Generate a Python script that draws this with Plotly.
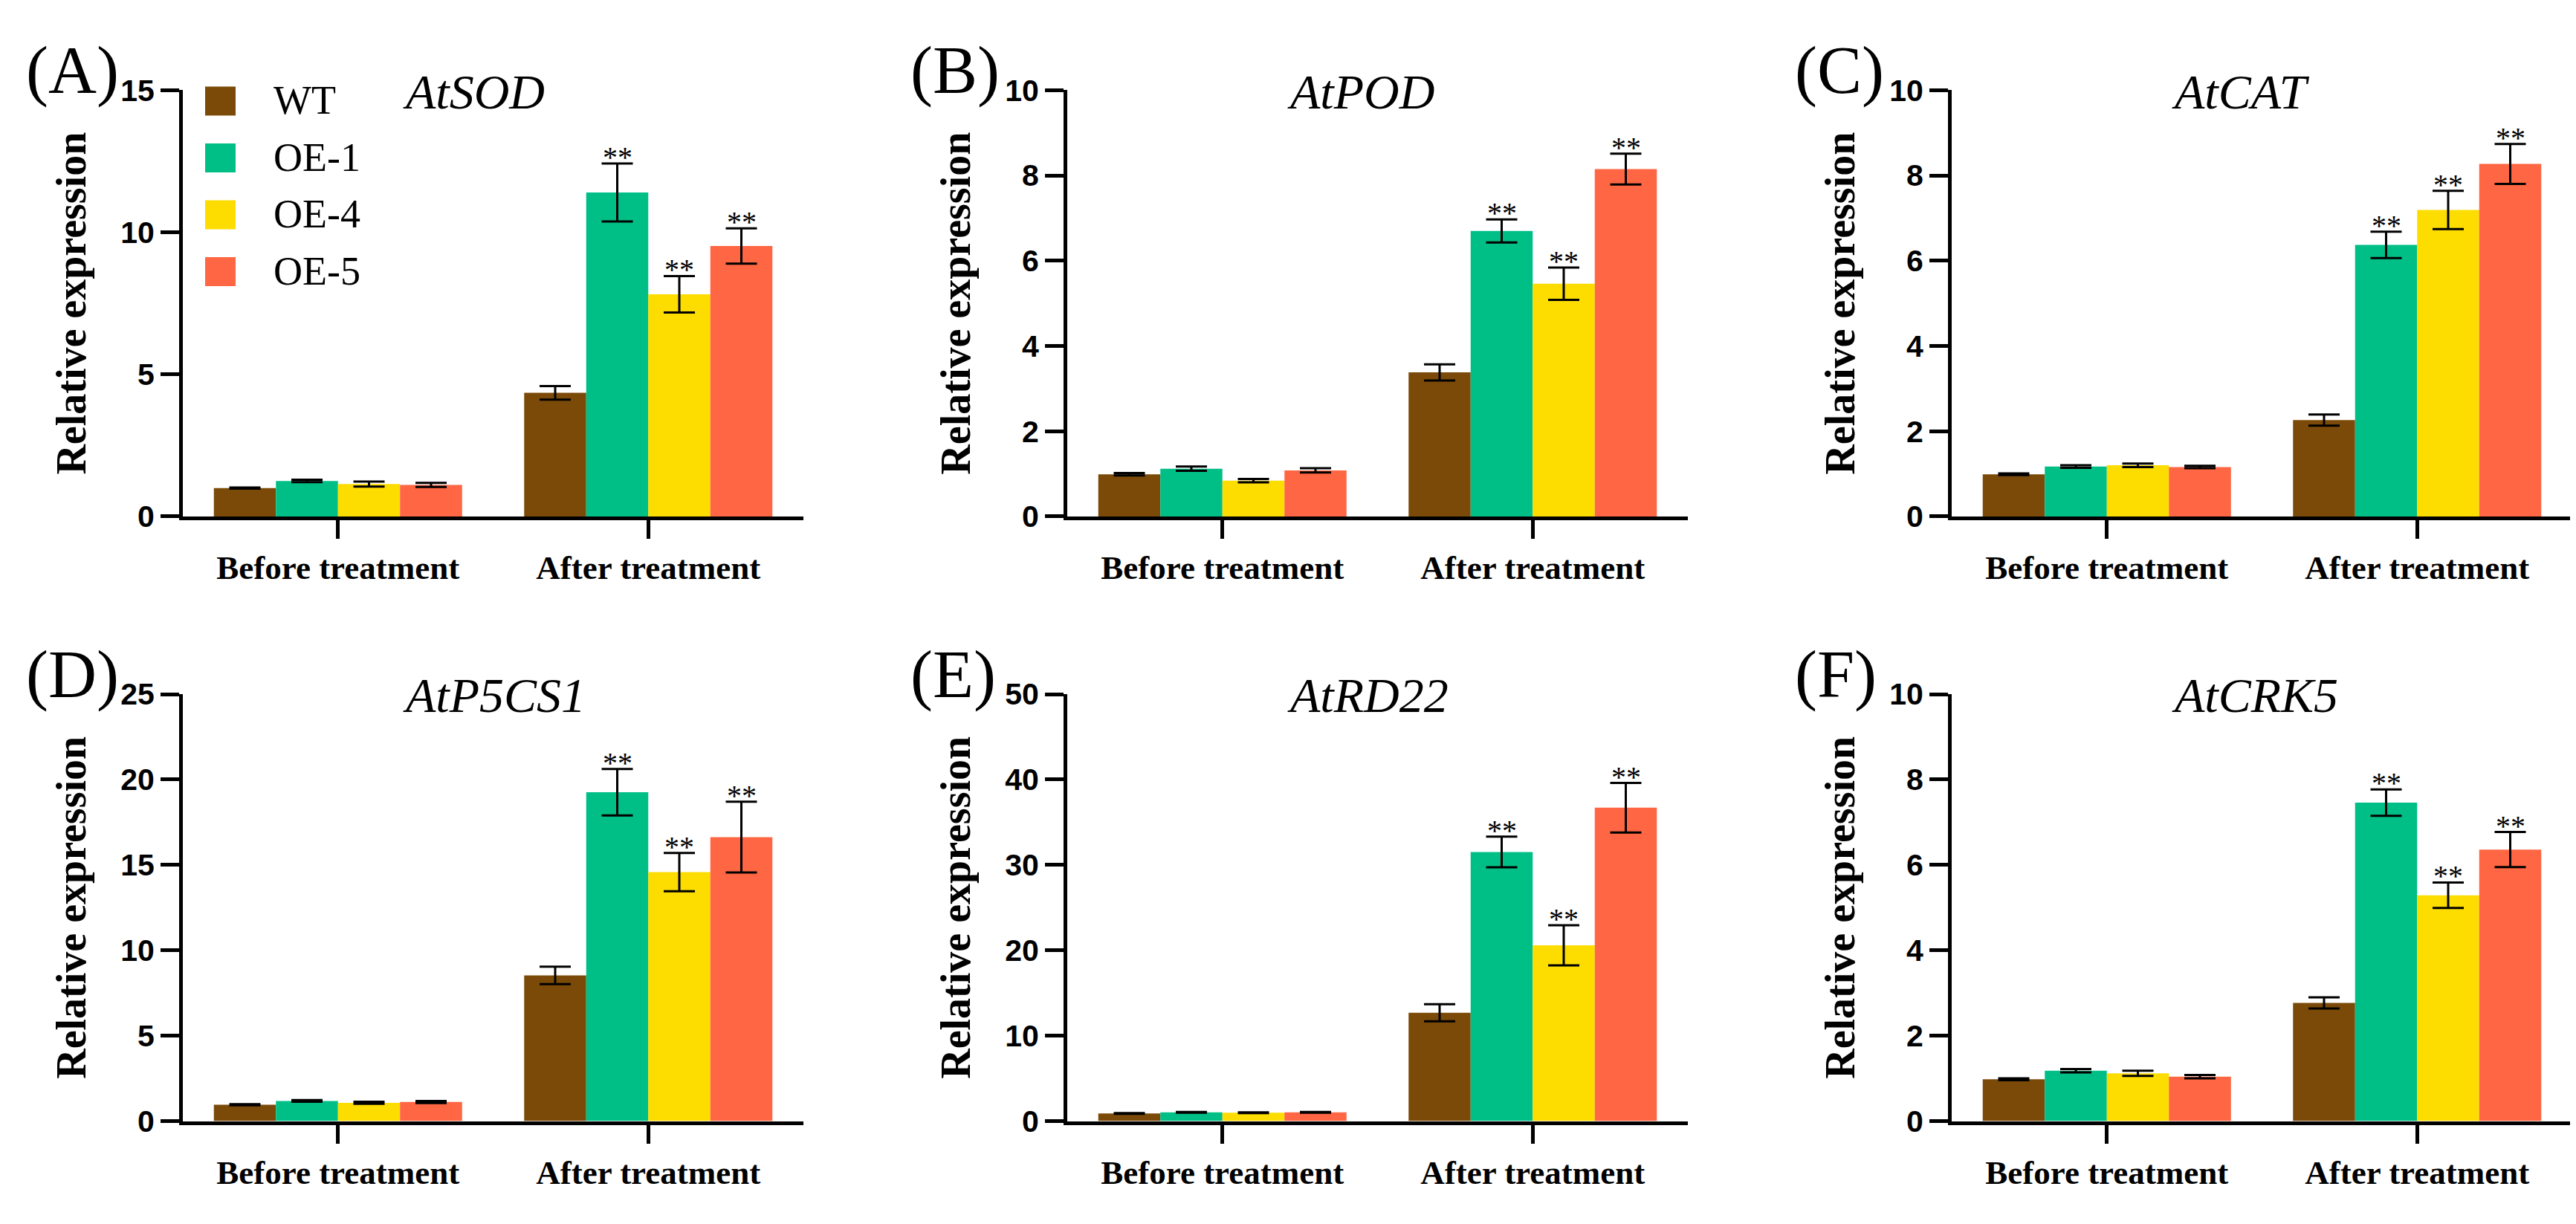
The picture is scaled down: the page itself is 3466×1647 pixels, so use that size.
import plotly.graph_objects as go
from plotly.subplots import make_subplots

# categories, lines and colours
categories = ["Before treatment", "After treatment"]
lines = ["WT", "OE-1", "OE-4", "OE-5"]
colors = ["#7B4A08", "#00BF86", "#FDDC00", "#FF6643"]

genes = ["AtSOD", "AtPOD", "AtCAT", "AtP5CS1", "AtRD22", "AtCRK5"]
panel_labels = ["(A)", "(B)", "(C)", "(D)", "(E)", "(F)"]
y_max = [15, 10, 10, 25, 50, 10]
y_step = [5, 2, 2, 5, 10, 2]

# means, one list per line: [before, after]
sod_mean = [[1.00, 4.35], [1.25, 11.40], [1.14, 7.82], [1.11, 9.52]]
sod_err = [[0.02, 0.24], [0.04, 1.02], [0.09, 0.64], [0.07, 0.62]]
pod_mean = [[0.99, 3.38], [1.12, 6.70], [0.84, 5.46], [1.08, 8.15]]
pod_err = [[0.03, 0.19], [0.05, 0.27], [0.04, 0.38], [0.05, 0.36]]
cat_mean = [[0.99, 2.26], [1.17, 6.37], [1.20, 7.19], [1.16, 8.27]]
cat_err = [[0.02, 0.13], [0.03, 0.31], [0.04, 0.45], [0.03, 0.47]]
p5cs1_mean = [[0.96, 8.53], [1.18, 19.26], [1.07, 14.58], [1.12, 16.63]]
p5cs1_err = [[0.03, 0.51], [0.05, 1.36], [0.06, 1.12], [0.06, 2.07]]
rd22_mean = [[0.89, 12.68], [1.03, 31.52], [0.98, 20.58], [1.03, 36.70]]
rd22_err = [[0.04, 1.00], [0.05, 1.79], [0.05, 2.35], [0.05, 2.90]]
crk5_mean = [[0.98, 2.77], [1.18, 7.46], [1.12, 5.29], [1.04, 6.36]]
crk5_err = [[0.02, 0.13], [0.04, 0.31], [0.06, 0.30], [0.04, 0.41]]

# significance marks per line: [before, after]
stars = [["", ""], ["", "**"], ["", "**"], ["", "**"]]

means = [sod_mean, pod_mean, cat_mean, p5cs1_mean, rd22_mean, crk5_mean]
errs = [sod_err, pod_err, cat_err, p5cs1_err, rd22_err, crk5_err]

W, H = 3466, 1647
serif = "Liberation Serif, Times New Roman, serif"
sans = "Liberation Sans, Arial, sans-serif"


def px(x):
    return x / W


def py(y):
    return 1 - y / H


col_left = [238, 1428, 2618]
axis_w = 835
row_top = [93, 929]
row_zero = [683, 1520]
bargap = 0.2

fig = make_subplots(rows=2, cols=3)

annotations = []
shapes = []
for i in range(6):
    r, c = i // 3, i % 3
    n = i + 1
    sfx = "" if n == 1 else str(n)
    for k, name in enumerate(lines):
        fig.add_trace(go.Bar(
            x=categories, y=means[i][k], name=name,
            marker=dict(color=colors[k], line=dict(width=0)),
            error_y=dict(type="data", array=errs[i][k], color="black",
                         thickness=3, width=21),
            showlegend=False,
        ), row=r + 1, col=c + 1)
        # ** marks above the error bars
        bw = (1 - bargap) / len(lines)
        for j in range(len(categories)):
            if stars[k][j]:
                annotations.append(dict(
                    xref="x" + sfx, yref="y" + sfx,
                    x=j + (k - (len(lines) - 1) / 2) * bw,
                    y=means[i][k][j] + errs[i][k][j],
                    text=stars[k][j], showarrow=False,
                    xanchor="center", yanchor="bottom", yshift=-16,
                    font=dict(family=serif, size=40, color="black"),
                ))

    fig.update_xaxes(
        domain=[px(col_left[c]), px(col_left[c] + axis_w)],
        range=[-0.5, 1.5], showline=True, linewidth=5, linecolor="black",
        ticks="outside", ticklen=25, tickwidth=5, tickcolor="black",
        tickfont=dict(family=serif, size=45, color="black", weight="bold"),
        showgrid=False, zeroline=False,
        row=r + 1, col=c + 1,
    )
    fig.update_yaxes(
        domain=[py(row_zero[r]), py(row_top[r])],
        range=[0, y_max[i]], tick0=0, dtick=y_step[i],
        showline=True, linewidth=5, linecolor="black",
        ticks="outside", ticklen=25, tickwidth=5, tickcolor="black",
        tickfont=dict(family=sans, size=41, color="black", weight="bold"),
        showgrid=False, zeroline=False,
        title=dict(text="Relative expression", standoff=30,
                   font=dict(family=serif, size=56, color="black", weight="bold")),
        row=r + 1, col=c + 1,
    )

    # panel letter
    annotations.append(dict(
        xref="paper", yref="paper", x=px(col_left[c] - 213), y=py(row_top[r] - 27),
        text=panel_labels[i], showarrow=False, xanchor="left", yanchor="middle",
        font=dict(family=serif, size=90, color="black"),
    ))
    # gene name
    annotations.append(dict(
        xref="paper", yref="paper", x=px(col_left[c] + 294), y=py(row_top[r] + 2),
        text="<i>" + genes[i] + "</i>", showarrow=False, xanchor="left", yanchor="middle",
        font=dict(family=serif, size=66, color="black"),
    ))

# legend drawn in panel A
for k, name in enumerate(lines):
    top = 88 + 78.7 * k
    shapes.append(dict(
        type="rect", xref="paper", yref="paper",
        x0=px(268), x1=px(309), y0=py(top + 40), y1=py(top),
        fillcolor=colors[k], line=dict(width=0),
    ))
    annotations.append(dict(
        xref="paper", yref="paper", x=px(358), y=py(top + 19),
        text=name, showarrow=False, xanchor="left", yanchor="middle",
        font=dict(family=serif, size=54, color="black"),
    ))

fig.update_layout(
    width=W, height=H, margin=dict(l=0, r=0, t=0, b=0),
    barmode="group", bargap=bargap, bargroupgap=0,
    plot_bgcolor="white", paper_bgcolor="white",
    annotations=annotations, shapes=shapes,
)

fig.write_html("out.html")
